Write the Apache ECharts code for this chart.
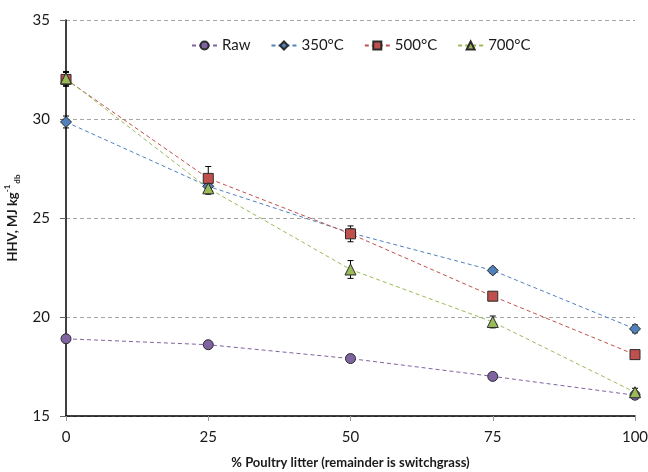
<!DOCTYPE html>
<html>
<head>
<meta charset="utf-8">
<script src="https://cdn.jsdelivr.net/npm/echarts@6/dist/echarts.min.js"></script>
<style>
  html, body { margin: 0; padding: 0; background: #fff; }
  #chart { width: 648px; height: 472px; }
</style>
</head>
<body>
<div id="chart"></div>
<script>
// Blend ratio (% poultry litter) on the x axis
const blendPct = [0, 25, 50, 75, 100];

// Higher heating value, MJ/kg (dry basis)
const hhvRaw = [18.9, 18.6, 17.9, 17.0, 16.05];
const hhv350 = [29.85, 26.6, 24.25, 22.35, 19.4];
const hhv500 = [32.0, 27.0, 24.2, 21.05, 18.1];
const hhv700 = [32.05, 26.5, 22.4, 19.75, 16.2];

// Standard deviations for the error bars
const errRaw = [0.1, 0.1, 0.1, 0.1, 0.1];
const err350 = [0.3, 0.2, 0.2, 0.15, 0.2];
const err500 = [0.35, 0.6, 0.4, 0.15, 0.15];
const err700 = [0.35, 0.3, 0.45, 0.3, 0.2];

const seriesNames = ['Raw', '350°C', '500°C', '700°C'];
const yTicks = [15, 20, 25, 30, 35];
const xTicks = [0, 25, 50, 75, 100];

const FONT = 'Lato, "Open Sans", sans-serif';

const styles = [
  { color: '#8064A2', symbol: 'circle', size: 10 },
  { color: '#4F81BD', symbol: 'diamond', size: 11 },
  { color: '#C0504D', symbol: 'rect', size: 10 },
  { color: '#9BBB59', symbol: 'triangle', size: 11 }
];

const values = [hhvRaw, hhv350, hhv500, hhv700];
const errors = [errRaw, err350, err500, err700];

function lineSeries(i) {
  const s = styles[i];
  return {
    name: seriesNames[i],
    type: 'line',
    z: 3,
    data: blendPct.map((x, k) => [x, values[i][k]]),
    symbol: s.symbol,
    symbolSize: s.size,
    showAllSymbol: true,
    lineStyle: { color: s.color, width: 1, type: [4, 3] },
    itemStyle: { color: s.color, borderColor: '#2b2b2b', borderWidth: 1 },
    emphasis: { disabled: true }
  };
}

function errorSeries(i) {
  return {
    type: 'custom',
    z: 2,
    silent: true,
    encode: { x: 0, y: [1, 2] },
    data: blendPct.map((x, k) => [x, values[i][k] - errors[i][k], values[i][k] + errors[i][k]]),
    renderItem(params, api) {
      const x = api.value(0);
      const lo = api.coord([x, api.value(1)]);
      const hi = api.coord([x, api.value(2)]);
      const w = 3;
      const st = { stroke: '#000', lineWidth: 1 };
      return {
        type: 'group',
        children: [
          { type: 'line', shape: { x1: lo[0], y1: lo[1], x2: hi[0], y2: hi[1] }, style: st },
          { type: 'line', shape: { x1: lo[0] - w, y1: lo[1], x2: lo[0] + w, y2: lo[1] }, style: st },
          { type: 'line', shape: { x1: hi[0] - w, y1: hi[1], x2: hi[0] + w, y2: hi[1] }, style: st }
        ]
      };
    }
  };
}

const series = [];
for (let i = 0; i < 4; i++) series.push(errorSeries(i));
for (let i = 0; i < 4; i++) series.push(lineSeries(i));

const chart = echarts.init(document.getElementById('chart'), null, { renderer: 'canvas' });
chart.setOption({
  animation: false,
  backgroundColor: '#fff',
  textStyle: { fontFamily: FONT },
  grid: { left: 66, right: 13, top: 20, bottom: 56, containLabel: false, outerBoundsMode: 'none' },
  legend: {
    data: seriesNames,
    left: 191,
    top: 38,
    padding: 0,
    itemWidth: 25,
    itemHeight: 10,
    itemGap: 20,
    textStyle: { fontFamily: FONT, fontSize: 15, color: '#1a1a1a' }
  },
  xAxis: {
    type: 'value',
    min: xTicks[0],
    max: xTicks[xTicks.length - 1],
    interval: 25,
    name: '% Poultry litter (remainder is switchgrass)',
    nameLocation: 'middle',
    nameGap: 40,
    nameTextStyle: { fontFamily: FONT, fontSize: 13, fontWeight: 'bold', color: '#1a1a1a' },
    axisLine: { lineStyle: { color: '#000', width: 1.5 } },
    axisTick: { show: true, length: 5, lineStyle: { color: '#999' } },
    axisLabel: { margin: 14, fontSize: 15, color: '#1a1a1a', fontFamily: FONT },
    splitLine: { show: false }
  },
  yAxis: {
    type: 'value',
    min: yTicks[0],
    max: yTicks[yTicks.length - 1],
    interval: 5,
    name: '{m|HHV, MJ kg}{sup|-1}{sub|db}',
    nameLocation: 'middle',
    nameGap: 35,
    nameTextStyle: {
      fontFamily: FONT,
      fontSize: 13,
      fontWeight: 'bold',
      color: '#1a1a1a',
      rich: {
        m: { fontFamily: FONT, fontSize: 13, fontWeight: 'bold', color: '#1a1a1a', lineHeight: 18, verticalAlign: 'middle' },
        sup: { fontFamily: FONT, fontSize: 8, fontWeight: 'bold', color: '#1a1a1a', lineHeight: 18, verticalAlign: 'top', padding: [0, 0, 3, 0] },
        sub: { fontFamily: FONT, fontSize: 8, fontWeight: 'bold', color: '#1a1a1a', lineHeight: 18, verticalAlign: 'bottom', padding: [4, 0, 0, 1] }
      }
    },
    axisLine: { show: true, lineStyle: { color: '#000', width: 1.5 } },
    axisTick: { show: true, length: 6, lineStyle: { color: '#666' } },
    axisLabel: { margin: 16, fontSize: 15, color: '#1a1a1a', fontFamily: FONT },
    splitLine: { show: true, lineStyle: { color: '#a6a6a6', type: [4, 3], width: 1 } }
  },
  series: series
});
</script>
</body>
</html>
